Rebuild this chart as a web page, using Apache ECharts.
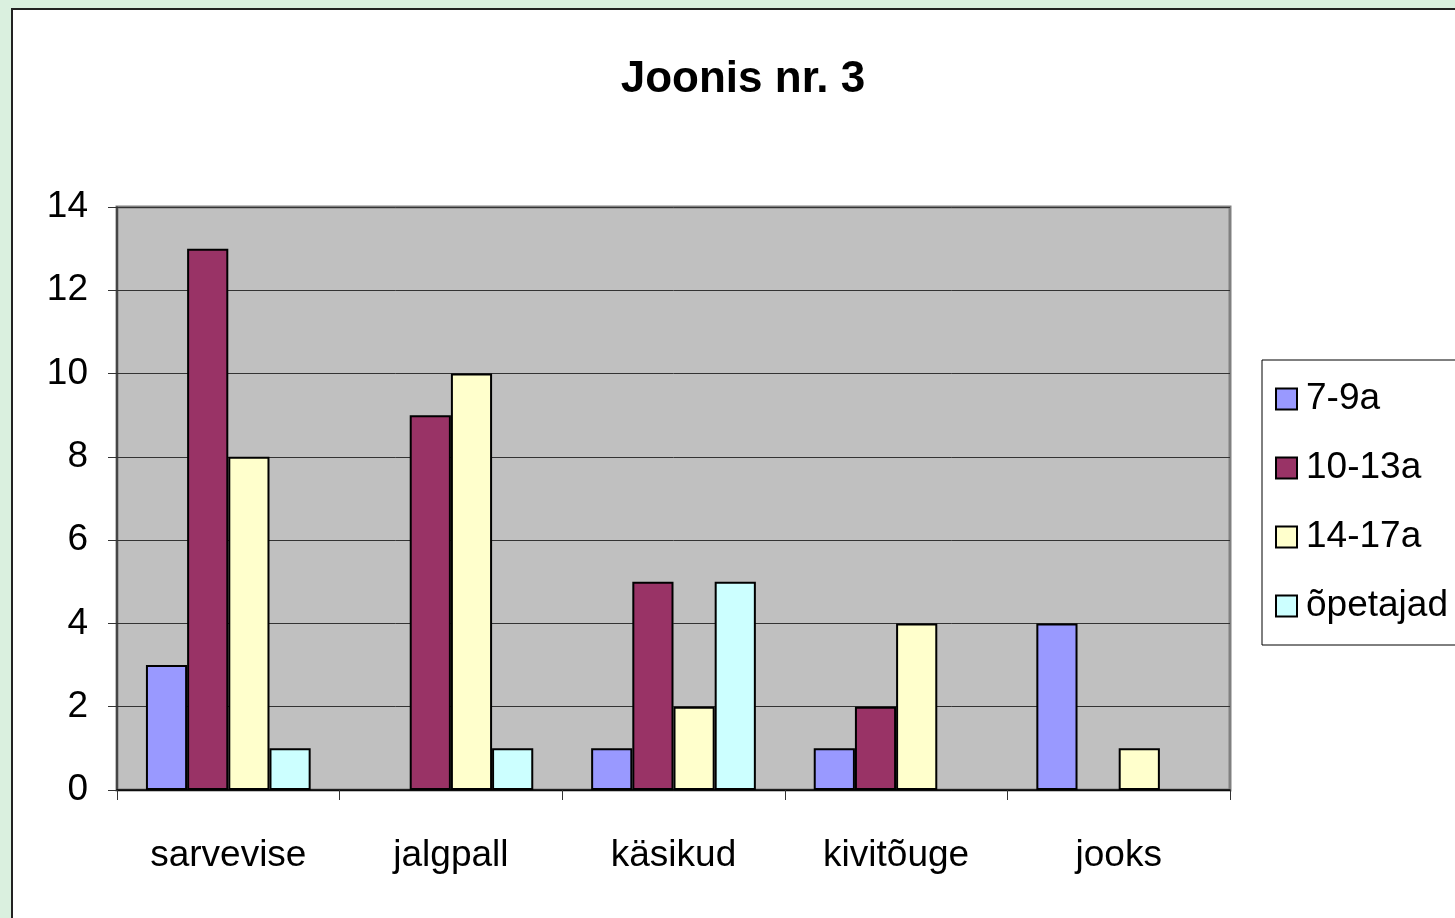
<!DOCTYPE html>
<html>
<head>
<meta charset="utf-8">
<script src="https://cdn.jsdelivr.net/npm/echarts@6/dist/echarts.min.js"></script>
<style>
html,body{margin:0;padding:0;background:#daf0df;}
#c{width:1455px;height:918px;}
</style>
</head>
<body>
<div id="c"></div>
<script>
var categories = ['sarvevise', 'jalgpall', 'käsikud', 'kivitõuge', 'jooks'];
var seriesNames = ['7-9a', '10-13a', '14-17a', 'õpetajad'];
var s79 = [3, 0, 1, 1, 4];
var s1013 = [13, 9, 5, 2, 0];
var s1417 = [8, 10, 2, 4, 1];
var sOpet = [1, 1, 5, 0, 0];
var yTicks = [0, 2, 4, 6, 8, 10, 12, 14];
var colors = ['#9999ff', '#993366', '#ffffcc', '#ccffff'];

var FONT = '"Liberation Sans", Arial, sans-serif';
var chart = echarts.init(document.getElementById('c'));
var allData = [s79, s1013, s1417, sOpet];

chart.setOption({
  animation: false,
  backgroundColor: 'transparent',
  graphic: [{
    type: 'rect', z: -10, silent: true,
    shape: { x: 12, y: 9, width: 1500, height: 1000 },
    style: { fill: '#ffffff', stroke: '#222222', lineWidth: 2 }
  }],
  title: {
    text: 'Joonis nr. 3',
    left: 738, top: 53, textAlign: 'center',
    textStyle: { fontFamily: FONT, fontWeight: 'bold', fontSize: 44, color: '#000' }
  },
  legend: {
    orient: 'vertical',
    left: 1262, top: 360,
    padding: [20, 40, 20, 13],
    itemGap: 31,
    itemWidth: 21, itemHeight: 21,
    backgroundColor: '#ffffff',
    borderColor: '#000', borderWidth: 1, borderRadius: 0,
    icon: 'rect',
    itemStyle: { borderColor: '#000', borderWidth: 2 },
    textStyle: { fontFamily: FONT, fontSize: 37, color: '#000', lineHeight: 38, padding: [0, 0, 0, 4] },
    data: seriesNames
  },
  grid: {
    left: 117, top: 207, right: 225, bottom: 128,
    show: true, backgroundColor: '#c0c0c0', borderColor: '#808080', borderWidth: 3
  },
  xAxis: {
    type: 'category',
    data: categories,
    axisLine: { show: true, lineStyle: { color: '#000', width: 1.5 } },
    axisTick: { show: true, length: 10, lineStyle: { color: '#333' } },
    axisLabel: { margin: 47, fontFamily: FONT, fontSize: 37, color: '#000' },
    splitLine: { show: false }
  },
  yAxis: {
    type: 'value',
    min: yTicks[0], max: yTicks[yTicks.length - 1], interval: 2,
    axisLine: { show: true, lineStyle: { color: '#333', width: 1.5 } },
    axisTick: { show: true, length: 9, lineStyle: { color: '#333' } },
    axisLabel: { margin: 29, fontFamily: FONT, fontSize: 37, color: '#000' },
    splitLine: { show: true, lineStyle: { color: '#333', width: 1 } }
  },
  series: seriesNames.map(function (n, i) {
    return {
      name: n, type: 'bar',
      data: allData[i].map(function (v) { return v === 0 ? null : v; }),
      barGap: '0%', barCategoryGap: '26%',
      itemStyle: { color: colors[i], borderColor: '#000', borderWidth: 2 }
    };
  })
});
</script>
</body>
</html>
